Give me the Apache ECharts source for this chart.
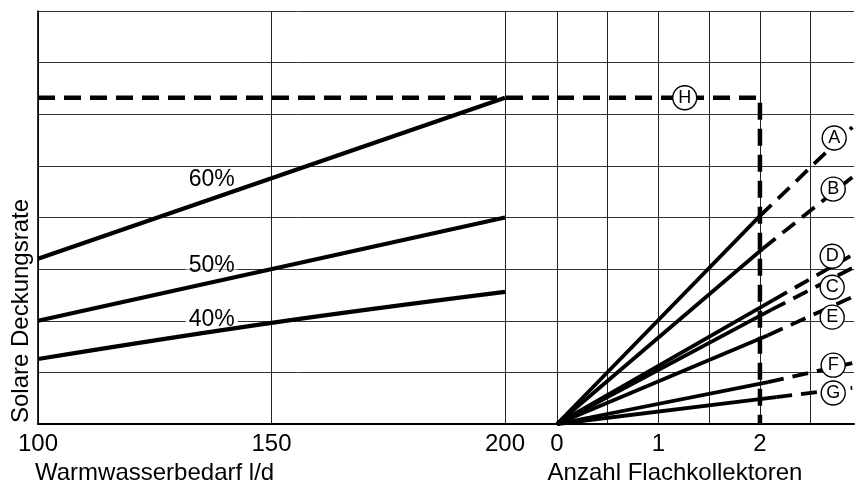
<!DOCTYPE html>
<html>
<head>
<meta charset="utf-8">
<script src="https://cdn.jsdelivr.net/npm/echarts@6/dist/echarts.min.js"></script>
<style>
  html, body { margin: 0; padding: 0; background: #fff; }
  #chart { width: 857px; height: 486px; }
</style>
</head>
<body>
<div id="chart"></div>
<script>
// ---- Left panel: hot-water demand (l/d) vs. solar coverage ----
const demandTicks = [100, 150, 200];
const coverage60 = [[100, 32.0], [200, 63.2]];
const coverage50 = [[100, 20.0], [200, 40.0]];
const coverage40 = [[100, 12.6], [150, 19.6], [200, 25.6]];
const coverageNames = ['60%', '50%', '40%'];

// ---- Right panel: number of flat-plate collectors ----
const collectorTicks = [0, 1, 2];
// each curve: origin, end of the solid part, end of the dashed extension
const curveA = [[0, 0], [2.00, 40.3], [2.91, 57.5]];
const curveB = [[0, 0], [2.03, 34.0], [2.91, 47.8]];
const curveC = [[0, 0], [2.11, 22.1], [2.91, 30.2]];
const curveD = [[0, 0], [2.13, 24.0], [2.89, 32.5]];
const curveE = [[0, 0], [2.08, 17.2], [2.91, 24.6]];
const curveF = [[0, 0], [2.08, 8.1], [2.91, 11.8]];
const curveG = [[0, 0], [2.16, 5.2], [2.91, 7.0]];
const curveNames = ['A', 'B', 'C', 'D', 'E', 'F', 'G'];

// example reading H: coverage level carried across to the collector count
const exampleLevel = 63.2;
const exampleCollectors = 2;

const FONT = '"Liberation Sans", Arial, Helvetica, sans-serif';
const INK = '#000';
const TEXT_SIZE = 24;

const curves = [curveA, curveB, curveC, curveD, curveE, curveF, curveG];

// annotation anchors (text placement only)
const coverageLabelAt = [[137.2, 47.3], [137.2, 30.7], [137.2, 20.2]];
const curveLabelAt = [[2.732, 55.4], [2.722, 45.5], [2.712, 26.5], [2.712, 32.5], [2.712, 20.7], [2.722, 11.4], [2.722, 6.0]];
const exampleLabelAt = [1.259, exampleLevel];

const dash = [16, 9];
const series = [];

// left panel curves
[coverage60, coverage50, coverage40].forEach(d => {
  series.push({
    type: 'line', xAxisIndex: 0, yAxisIndex: 0, data: d,
    symbol: 'none', smooth: d.length > 2 ? 0.4 : false, z: 3,
    lineStyle: { color: INK, width: 4.2, opacity: 1 }
  });
});
// curve names; the narrow white band only breaks the grid line behind the text
series.push({
  type: 'scatter', xAxisIndex: 0, yAxisIndex: 0, symbolSize: 0, z: 2,
  itemStyle: { opacity: 1 },
  data: coverageNames.map((n, i) => ({ name: n, value: coverageLabelAt[i] })),
  label: {
    show: true, position: 'inside', formatter: p => p.name,
    fontSize: 23, fontFamily: FONT, color: INK, opacity: 1,
    lineHeight: 8, backgroundColor: '#fff', padding: [0, 3]
  }
});

// example line H across the left panel
series.push({
  type: 'line', xAxisIndex: 0, yAxisIndex: 0, symbol: 'none', z: 3,
  data: [[100, exampleLevel], [211.13, exampleLevel]],
  lineStyle: { color: INK, width: 4.5, type: [17, 9], cap: 'butt' }
});

// right panel curves
curves.forEach(c => {
  series.push({
    type: 'line', xAxisIndex: 1, yAxisIndex: 1, symbol: 'none', z: 3,
    data: [c[0], c[1]],
    lineStyle: { color: INK, width: 3.8 }
  });
  series.push({
    type: 'line', xAxisIndex: 1, yAxisIndex: 1, symbol: 'none', z: 3,
    data: [c[1], c[2]],
    lineStyle: { color: INK, width: 3.8, type: dash, cap: 'butt' }
  });
});

// example line H in the right panel, dropping down at the collector count
series.push({
  type: 'line', xAxisIndex: 1, yAxisIndex: 1, symbol: 'none', z: 3,
  data: [[0, exampleLevel], [exampleCollectors, exampleLevel], [exampleCollectors, 0]],
  lineStyle: { color: INK, width: 4.5, type: [17, 9], cap: 'butt', join: 'miter' }
});

// circled letters
series.push({
  type: 'scatter', xAxisIndex: 1, yAxisIndex: 1, z: 8,
  symbol: 'circle', symbolSize: 24,
  itemStyle: { color: '#fff', borderColor: INK, borderWidth: 1.4, opacity: 1 },
  data: curveNames.map((n, i) => ({ name: n, value: curveLabelAt[i] }))
    .concat([{ name: 'H', value: exampleLabelAt }]),
  label: {
    show: true, position: 'inside', formatter: p => p.name,
    fontSize: 18, fontFamily: FONT, color: INK, opacity: 1
  }
});

const gridLine = { show: true, lineStyle: { color: '#222', width: 1 } };

const option = {
  animation: false,
  backgroundColor: '#fff',
  grid: [
    { left: 38, top: 11, width: 519, height: 413 },
    { left: 557, top: 11, width: 300, height: 413 }
  ],
  xAxis: [
    {
      gridIndex: 0, type: 'value', min: 100, max: 211.13, interval: 50,
      axisLine: { show: true, onZero: false, lineStyle: { color: INK, width: 2 } },
      axisTick: { show: false },
      axisLabel: {
        formatter: v => demandTicks.includes(v) ? String(v) : '',
        fontSize: TEXT_SIZE, fontFamily: FONT, color: INK, margin: 8
      },
      splitLine: gridLine
    },
    {
      gridIndex: 1, type: 'value', min: 0, max: 2.927, interval: 0.5,
      axisLine: { show: true, onZero: false, lineStyle: { color: INK, width: 2 } },
      axisTick: { show: false },
      axisLabel: {
        formatter: v => collectorTicks.includes(v) ? String(v) : '',
        fontSize: TEXT_SIZE, fontFamily: FONT, color: INK, margin: 8
      },
      splitLine: Object.assign({ showMaxLine: false }, gridLine)
    }
  ],
  yAxis: [
    {
      gridIndex: 0, type: 'value', min: 0, max: 80, interval: 10,
      axisLine: { show: true, onZero: false, lineStyle: { color: INK, width: 1.6 } },
      axisTick: { show: false }, axisLabel: { show: false },
      splitLine: { show: true, lineStyle: { color: '#333', width: 1 } }
    },
    {
      gridIndex: 1, type: 'value', min: 0, max: 80, interval: 10,
      axisLine: { show: false }, axisTick: { show: false }, axisLabel: { show: false },
      splitLine: { show: true, lineStyle: { color: '#333', width: 1 } }
    }
  ],
  graphic: [
    {
      type: 'text', x: 35, y: 473,
      style: { text: 'Warmwasserbedarf l/d', fontSize: TEXT_SIZE, fontFamily: FONT, fill: INK,
               align: 'left', verticalAlign: 'middle' }
    },
    {
      type: 'text', x: 675, y: 473,
      style: { text: 'Anzahl Flachkollektoren', fontSize: TEXT_SIZE, fontFamily: FONT, fill: INK,
               align: 'center', verticalAlign: 'middle' }
    },
    {
      type: 'text', x: 21, y: 311, rotation: Math.PI / 2,
      style: { text: 'Solare Deckungsrate', fontSize: TEXT_SIZE, fontFamily: FONT, fill: INK,
               align: 'center', verticalAlign: 'middle' }
    }
  ],
  series: series
};

const chart = echarts.init(document.getElementById('chart'), null, { renderer: 'canvas' });
chart.setOption(option);
</script>
</body>
</html>
